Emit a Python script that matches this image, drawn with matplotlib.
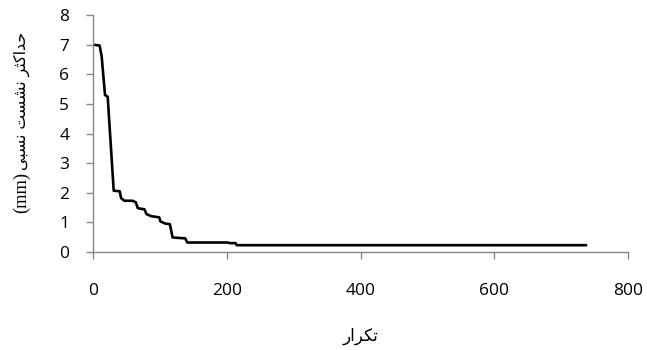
import numpy as np
import matplotlib
matplotlib.use("Agg")
import matplotlib.pyplot as plt

# iteration vs. max relative settlement
iteration = [0, 10, 13, 18, 22, 31, 40, 42, 47, 59, 64, 67, 77, 80, 87, 99, 101,
             108, 115, 119, 138, 141, 202, 204, 213, 215, 737]
settlement = [7.0, 6.97, 6.6, 5.3, 5.24, 2.07, 2.05, 1.82, 1.73, 1.73, 1.68, 1.48,
              1.44, 1.28, 1.21, 1.17, 1.03, 0.96, 0.94, 0.49, 0.46, 0.32, 0.32,
              0.30, 0.30, 0.23, 0.23]

x_ticks = [0, 200, 400, 600, 800]
y_ticks = [0, 1, 2, 3, 4, 5, 6, 7, 8]

# Persian labels, pre-shaped (presentation forms, visual order)
x_label = "\uFEAD\uFE8D\uFEAE\uFB91\uFE97"  # تکرار
y_label_fa = ("\uFBFD\uFE92\uFEB4\uFEE7" + " " + "\uFE96\uFEB4\uFEB8\uFEE7"
              + " " + "\uFEAE\uFE9C\uFB90\uFE8D\uFEAA\uFEA3")  # حداکثر نشست نسبی
y_label_unit = "(mm)"

fig = plt.figure(figsize=(6.47, 3.5), dpi=100)
ax = fig.add_axes([0.1437, 0.28, 0.827, 0.677])

ax.plot(iteration, settlement, color="black", linewidth=1.9)

ax.set_xlim(0, 800)
ax.set_ylim(0, 8)
ax.set_xticks(x_ticks)
ax.set_yticks(y_ticks)

for side in ("top", "right"):
    ax.spines[side].set_visible(False)
for side in ("left", "bottom"):
    ax.spines[side].set_color("#868686")
    ax.spines[side].set_linewidth(1.0)

ax.tick_params(axis="both", direction="out", length=5, width=1.0, color="#868686",
               labelsize=12.5)
ax.tick_params(axis="x", pad=17)
ax.tick_params(axis="y", pad=12)
for lab in ax.get_xticklabels() + ax.get_yticklabels():
    lab.set_family(["Open Sans", "DejaVu Sans"])

fig.text(361 / 647, 1 - 336 / 350, x_label, family=["DejaVu Sans"], fontsize=12,
         ha="center", va="center")
# y label: persian part and unit drawn separately so each can be sized
fig.text(22 / 647, 1 - 101 / 350, y_label_fa, family=["DejaVu Sans"],
         fontsize=11.3, rotation=90, ha="center", va="center")
fig.text(22 / 647, 1 - 192 / 350, y_label_unit, family=["Liberation Serif"],
         fontsize=13.3, rotation=90, ha="center", va="center")

fig.savefig("out.png", dpi=100)
